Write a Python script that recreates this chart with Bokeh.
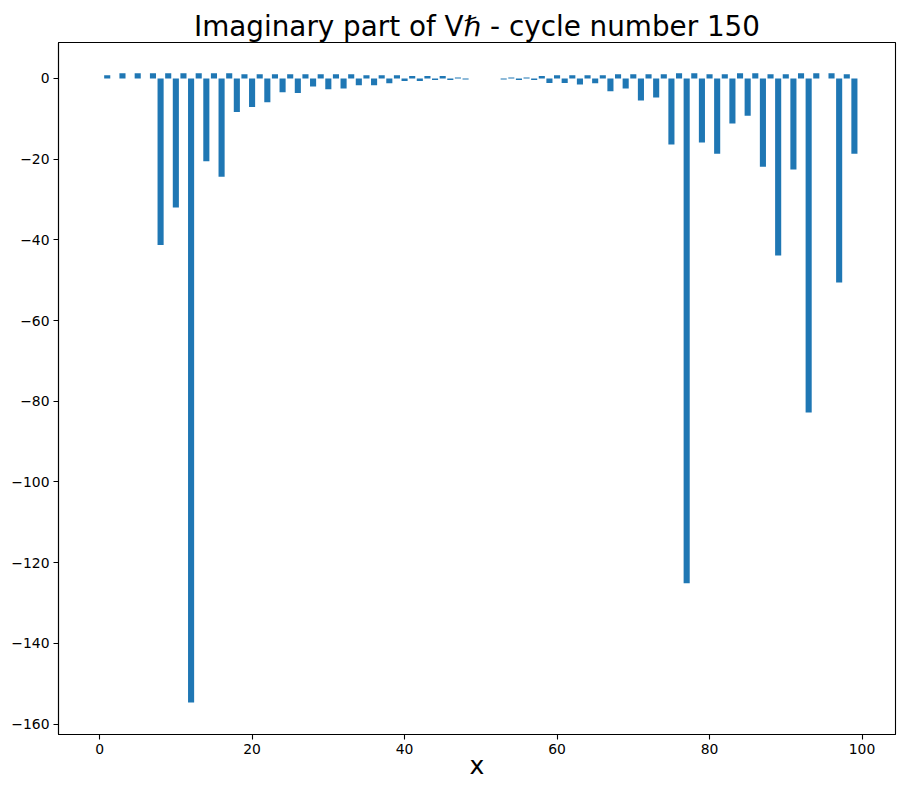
from bokeh.plotting import figure
from bokeh.models import Range1d, FixedTicker, CustomJSTickFormatter, ColumnDataSource
from bokeh.embed import file_html
from bokeh.resources import INLINE

# Imaginary part of V_hbar at cycle 150, one value per x = 0..99
values = [
    0.0, 0.8, 0.0, 1.3, 0.0, 1.3, 0.0, 1.3, -41.3, 1.3,
    -32.0, 1.3, -154.7, 1.3, -20.5, 1.3, -24.4, 1.3, -8.3, 1.05,
    -7.1, 1.05, -5.9, 1.05, -3.4, 1.05, -3.6, 1.05, -2.0, 1.05,
    -2.7, 1.05, -2.5, 1.05, -1.7, 0.8, -1.7, 0.8, -1.2, 0.8,
    -0.67, 0.57, -0.67, 0.57, -0.42, 0.57, -0.42, 0.25, -0.25, 0.0,
    0.0, 0.0, 0.0, -0.25, 0.25, -0.42, 0.25, -0.42, 0.57, -1.15,
    0.8, -1.15, 0.8, -1.5, 0.8, -1.2, 0.8, -3.2, 1.05, -2.5,
    1.05, -5.5, 1.05, -4.7, 1.05, -16.4, 1.3, -125.1, 1.3, -15.9,
    1.05, -18.7, 1.05, -11.2, 1.3, -9.25, 1.3, -21.9, 1.05, -43.9,
    1.05, -22.6, 1.3, -82.8, 1.3, 0.0, 1.3, -50.6, 1.05, -18.7,
]
x_positions = list(range(len(values)))
x_ticks = [0, 20, 40, 60, 80, 100]
y_ticks = [-160, -140, -120, -100, -80, -60, -40, -20, 0]

title_text = "Imaginary part of V\u210f - cycle number 150"
x_label = "x"

src = ColumnDataSource(data=dict(x=x_positions, top=values))

p = figure(
    width=897, height=782,
    output_backend="svg", toolbar_location=None,
    x_range=Range1d(-5.39, 104.39), y_range=Range1d(-162.6, 8.9),
    min_border_left=58, min_border_right=2, min_border_top=42, min_border_bottom=46,
)
p.vbar(x="x", top="top", bottom=0, width=0.8, source=src,
       fill_color="#1f77b4", line_color=None)

p.title.text = title_text
p.title.text_font = "DejaVu Sans"
p.title.text_font_size = "27.8px"
p.title.text_font_style = "normal"
p.title.text_color = "black"
p.title.align = "center"
p.title.standoff = 0

p.grid.visible = False
p.outline_line_color = "black"
p.outline_line_width = 1.1
p.background_fill_color = "white"
p.border_fill_color = "white"

fmt = CustomJSTickFormatter(code="return tick < 0 ? '\u2212' + Math.abs(tick) : tick.toString();")
for ax in (p.xaxis[0], p.yaxis[0]):
    ax.axis_line_color = "black"
    ax.axis_line_width = 1.1
    ax.major_tick_line_color = "black"
    ax.major_tick_line_width = 1.1
    ax.major_tick_out = 5
    ax.major_tick_in = 0
    ax.minor_tick_line_color = None
    ax.major_label_text_font = "DejaVu Sans"
    ax.major_label_text_font_size = "13.9px"
    ax.major_label_text_color = "black"
    ax.major_label_standoff = 4
    ax.formatter = fmt

p.xaxis[0].ticker = FixedTicker(ticks=x_ticks)
p.yaxis[0].ticker = FixedTicker(ticks=y_ticks)
p.xaxis[0].axis_label = x_label
p.xaxis[0].axis_label_text_font = "DejaVu Sans"
p.xaxis[0].axis_label_text_font_size = "25px"
p.xaxis[0].axis_label_text_font_style = "normal"
p.xaxis[0].axis_label_text_color = "black"
p.xaxis[0].axis_label_standoff = -6

open("out.html", "w").write(file_html(p, INLINE))
